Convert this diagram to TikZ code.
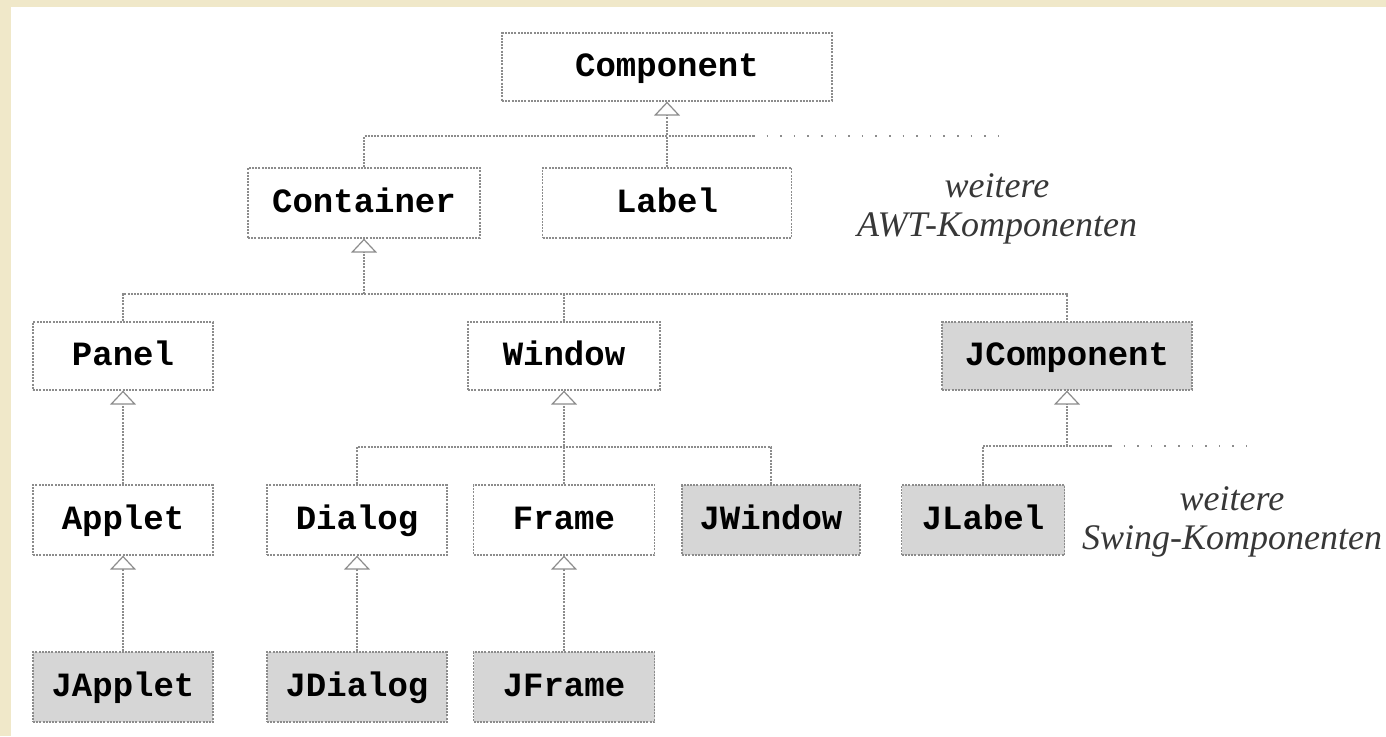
\documentclass[tikz,border=0pt]{standalone}
\usepackage{fontspec}
\setmainfont{Liberation Serif}
\setmonofont{Liberation Mono}
\usetikzlibrary{arrows.meta}

\definecolor{paper}{RGB}{240,232,201}
\definecolor{edge}{RGB}{140,140,140}
\definecolor{swingfill}{RGB}{214,214,214}
\definecolor{notetext}{RGB}{55,55,55}

\begin{document}
\begin{tikzpicture}[x=1pt,y=-1pt,
  cls/.style={draw=edge, line width=1.3pt, dash pattern=on 2pt off 1.2pt,
    fill=white, inner sep=0pt, minimum height=70pt,
    font=\fontsize{34}{40}\selectfont\ttfamily\bfseries,
    text height=19pt, text depth=0pt},
  swing/.style={cls, fill=swingfill},
  link/.style={draw=edge, line width=1.3pt, dash pattern=on 2pt off 1.2pt},
  inherit/.style={link, -{Triangle[open, width=26pt, length=14pt, fill=white, line width=1.2pt]}},
  more/.style={draw=edge, line width=1.6pt, dash pattern=on 1.6pt off 12pt},
  note/.style={font=\fontsize{36}{39}\selectfont\itshape, text=notetext,
    align=center, inner sep=0pt}
]
% page and white sheet
\fill[paper] (0,0) rectangle (1386,736);
\fill[white] (11,7) rectangle (1386,736);
\useasboundingbox (0,0) rectangle (1386,736);

% AWT classes
\node[cls, minimum width=330pt, minimum height=68pt] (component) at (667,67) {Component};
\node[cls, minimum width=232pt] (container) at (364,203) {Container};
\node[cls, minimum width=249pt] (label) at (667,203) {Label};
\node[cls, minimum width=180pt, minimum height=68pt] (panel) at (123,356) {Panel};
\node[cls, minimum width=192pt, minimum height=68pt] (window) at (564,356) {Window};
\node[cls, minimum width=180pt] (applet) at (123,520) {Applet};
\node[cls, minimum width=180pt] (dialog) at (357,520) {Dialog};
\node[cls, minimum width=181pt] (frame) at (564,520) {Frame};

% Swing classes
\node[swing, minimum width=250pt, minimum height=68pt] (jcomponent) at (1067,356) {JComponent};
\node[swing, minimum width=178pt] (jwindow) at (771,520) {JWindow};
\node[swing, minimum width=163pt] (jlabel) at (983,520) {JLabel};
\node[swing, minimum width=180pt] (japplet) at (123,687) {JApplet};
\node[swing, minimum width=180pt] (jdialog) at (357,687) {JDialog};
\node[swing, minimum width=181pt] (jframe) at (564,687) {JFrame};

% notes
\node[note] (awtnote) at (997,209) {weitere\\AWT-Komponenten};
\node[note] (swingnote) at (1232,522) {weitere\\Swing-Komponenten};

% bus coordinates
\coordinate (awtbus) at (753,136);
\coordinate (awtend) at (1005,136);
\coordinate (contbus) at (364,294);
\coordinate (winbus) at (564,447);
\coordinate (swingbus) at (1067,446);
\coordinate (swingsolid) at (1110,446);
\coordinate (swingend) at (1247,446);

% Component subclasses
\draw[link] (container.north) |- (awtbus);
\draw[more] (awtbus) -- (awtend);
\draw[inherit] (label.north) -- (component.south);

% Container subclasses
\draw[link] (panel.north) |- (contbus) -| (jcomponent.north);
\draw[link] (window.north) -- (window.north |- contbus);
\draw[inherit] (contbus) -- (container.south);

% Panel / Window / JComponent subclasses
\draw[inherit] (applet.north) -- (panel.south);
\draw[link] (dialog.north) |- (winbus) -| (jwindow.north);
\draw[inherit] (frame.north) -- (window.south);
\draw[link] (jlabel.north) |- (swingbus) -- (swingsolid);
\draw[more] (swingsolid) -- (swingend);
\draw[inherit] (swingbus) -- (jcomponent.south);

% Swing top-level containers
\draw[inherit] (japplet.north) -- (applet.south);
\draw[inherit] (jdialog.north) -- (dialog.south);
\draw[inherit] (jframe.north) -- (frame.south);
\end{tikzpicture}
\end{document}
